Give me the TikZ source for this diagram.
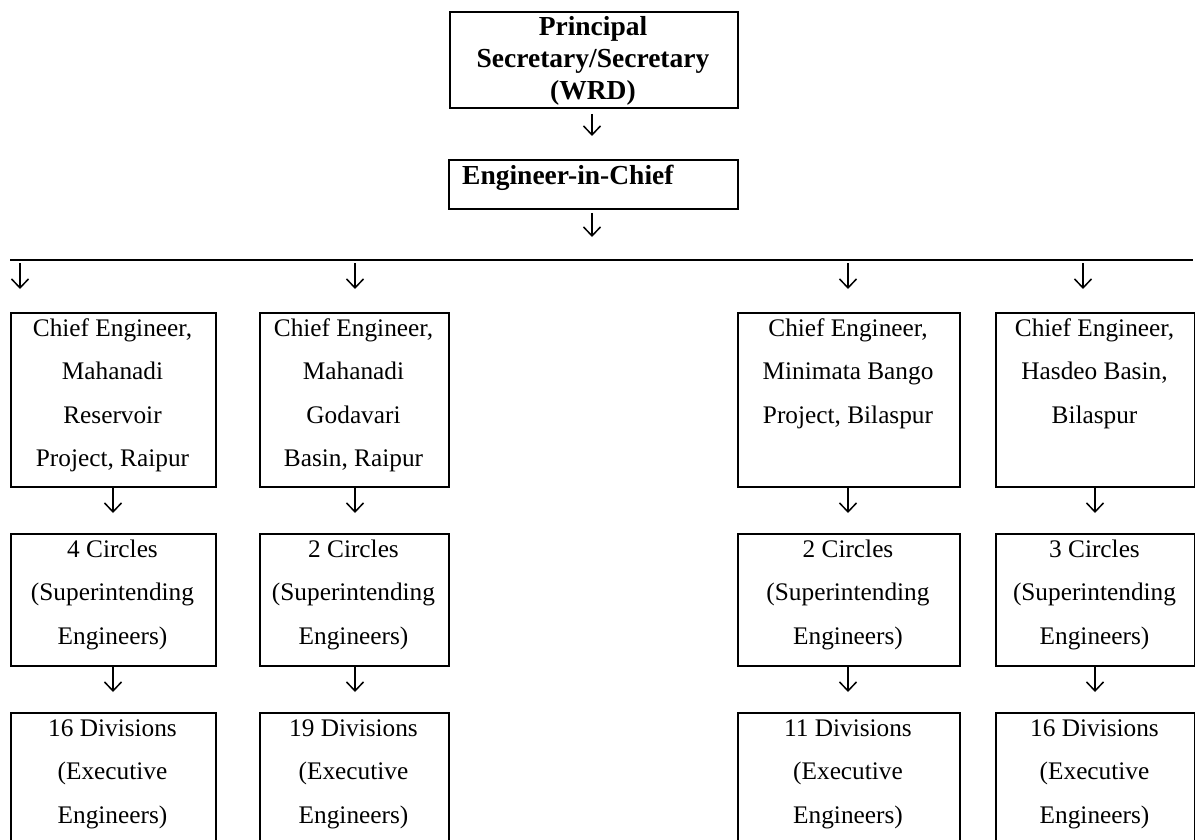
\documentclass[tikz,border=0pt]{standalone}
\usepackage{fontspec}
\setmainfont{Liberation Serif}
\usetikzlibrary{arrows.meta}
\tikzset{
  bx/.style={draw, line width=1.6pt, inner sep=0pt, rectangle},
  txt/.style={font=\fontsize{25.3}{30}\selectfont, inner sep=0pt},
  btxt/.style={font=\fontsize{27.5}{32}\selectfont\bfseries, inner sep=0pt},
  arr/.style={line width=1.5pt, -{Straight Barb[length=9pt,width=17pt,line width=1.5pt]}},
  rule/.style={line width=1.8pt}
}
\newcommand\orgbox[5]{\node[bx, minimum width=#4pt, minimum height=#5pt, anchor=north west] (#1) at (#2,#3) {};}
\newcommand\orglines[6]{%
  \foreach \l [count=\i] in {#5} {
    \node[#4, anchor=base] (#1-\i) at ({#2},{#3+#6*(\i-1)}) {\l};
  }}
\newcommand\orgarrow[4]{%
  \coordinate (#1s) at (#2,#3);
  \coordinate (#1e) at (#2,#4);
  \draw[arr] (#1s) -- (#1e);}
\begin{document}
\begin{tikzpicture}[x=1pt,y=-1pt]
\clip (0,0) rectangle (1195,840);
% top boxes
\orgbox{top}{449}{11}{288}{96}
\orglines{tt}{593}{36}{btxt}{Principal,Secretary/Secretary,(WRD)}{32}
\orgarrow{a0}{592}{114}{136}
\orgbox{eic}{448}{159}{289}{49}
\node[btxt, anchor=base west] (eict) at (462,185) {Engineer-in-Chief};
\orgarrow{a1}{592}{213}{237}
% horizontal rule
\coordinate (hl) at (10,260);
\coordinate (hr) at (1193,260);
\draw[rule] (hl) -- (hr);
% arrows to chief engineers
\orgarrow{r1}{20}{263}{289}
\orgarrow{r2}{355}{263}{289}
\orgarrow{r3}{848}{263}{289}
\orgarrow{r4}{1083}{263}{289}
% chief engineer boxes
\orgbox{ce1}{10}{312}{205}{174}
\orgbox{ce2}{259}{312}{189}{174}
\orgbox{ce3}{737}{312}{222}{174}
\orgbox{ce4}{995}{312}{199}{174}
\orglines{ce1t}{112.5}{336}{txt}{{Chief Engineer,},Mahanadi,Reservoir,{Project, Raipur}}{43.5}
\orglines{ce2t}{353.5}{336}{txt}{{Chief Engineer,},Mahanadi,Godavari,{Basin, Raipur}}{43.5}
\orglines{ce3t}{848}{336}{txt}{{Chief Engineer,},{Minimata Bango},{Project, Bilaspur}}{43.5}
\orglines{ce4t}{1094.5}{336}{txt}{{Chief Engineer,},{Hasdeo Basin,},Bilaspur}{43.5}
% arrows to circles
\orgarrow{s1}{113}{488}{513}
\orgarrow{s2}{355}{488}{513}
\orgarrow{s3}{848}{488}{513}
\orgarrow{s4}{1095}{488}{513}
% circle boxes
\orgbox{ci1}{10}{533}{205}{132}
\orgbox{ci2}{259}{533}{189}{132}
\orgbox{ci3}{737}{533}{222}{132}
\orgbox{ci4}{995}{533}{199}{132}
\orglines{ci1t}{112.5}{557}{txt}{{4 Circles},{(Superintending},{Engineers)}}{43.5}
\orglines{ci2t}{353.5}{557}{txt}{{2 Circles},{(Superintending},{Engineers)}}{43.5}
\orglines{ci3t}{848}{557}{txt}{{2 Circles},{(Superintending},{Engineers)}}{43.5}
\orglines{ci4t}{1094.5}{557}{txt}{{3 Circles},{(Superintending},{Engineers)}}{43.5}
% arrows to divisions
\orgarrow{t1}{113}{667}{692}
\orgarrow{t2}{355}{667}{692}
\orgarrow{t3}{848}{667}{692}
\orgarrow{t4}{1095}{667}{692}
% division boxes
\orgbox{dv1}{10}{712}{205}{200}
\orgbox{dv2}{259}{712}{189}{200}
\orgbox{dv3}{737}{712}{222}{200}
\orgbox{dv4}{995}{712}{199}{200}
\orglines{dv1t}{112.5}{736}{txt}{{16 Divisions},{(Executive},{Engineers)}}{43.5}
\orglines{dv2t}{353.5}{736}{txt}{{19 Divisions},{(Executive},{Engineers)}}{43.5}
\orglines{dv3t}{848}{736}{txt}{{11 Divisions},{(Executive},{Engineers)}}{43.5}
\orglines{dv4t}{1094.5}{736}{txt}{{16 Divisions},{(Executive},{Engineers)}}{43.5}
\end{tikzpicture}
\end{document}
